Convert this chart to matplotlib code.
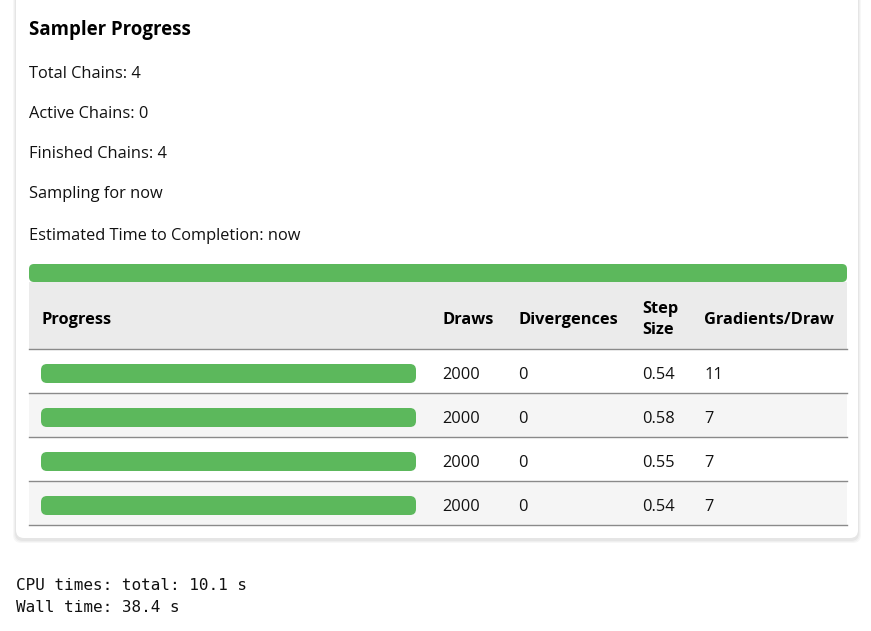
import matplotlib.pyplot as plt
from matplotlib.patches import FancyBboxPatch, Rectangle

title = "Sampler Progress"
total_chains = 4
active_chains = 0
finished_chains = 4
sampling_for = "now"
eta = "now"
overall_progress = 1.0

chain_progress = [1.0, 1.0, 1.0, 1.0]
draws = [2000, 2000, 2000, 2000]
divergences = [0, 0, 0, 0]
step_size = [0.54, 0.58, 0.55, 0.54]
grads_per_draw = [11, 7, 7, 7]
headers = ["Progress", "Draws", "Divergences", "Step\nSize", "Gradients/Draw"]

cpu_total = 10.1
wall_time = 38.4

GREEN = "#5cb85c"
SANS = ["Open Sans", "DejaVu Sans"]
MONO = ["DejaVu Sans Mono"]

fig = plt.figure(figsize=(8.71, 6.31), dpi=100)
ax = fig.add_axes([0, 0, 1, 1])
ax.set_xlim(0, 871)
ax.set_ylim(631, 0)
ax.axis("off")

# card with soft shadow
for i, a in enumerate([0.03, 0.03, 0.04]):
    d = 3 - i
    ax.add_patch(FancyBboxPatch((16 - d, -20 - d + 2), 842 + 2 * d, 558 + 2 * d,
                                boxstyle="round,pad=0,rounding_size=8",
                                fc="black", ec="none", alpha=a, zorder=0))
ax.add_patch(FancyBboxPatch((16, -20), 842, 558, boxstyle="round,pad=0,rounding_size=8",
                            fc="white", ec="none", zorder=1))

body = dict(fontsize=11.8, family=SANS, va="center", ha="left", color="#111111", zorder=5)
ax.text(29, 30, title, fontsize=13.4, family=SANS, fontweight="bold",
        va="center", ha="left", color="black", zorder=5)
lines = [f"Total Chains: {total_chains}", f"Active Chains: {active_chains}",
         f"Finished Chains: {finished_chains}", f"Sampling for {sampling_for}",
         f"Estimated Time to Completion: {eta}"]
for y, s in zip([73.5, 113.5, 153.5, 194.5, 235.5], lines):
    ax.text(29, y, s, **body)

# overall progress bar
track_x, track_w = 29, 818
ax.add_patch(FancyBboxPatch((track_x, 264), track_w * overall_progress, 18,
                            boxstyle="round,pad=0,rounding_size=5",
                            fc=GREEN, ec="none", zorder=3))

# table
ax.add_patch(Rectangle((29, 282), 818, 67, fc="#ebebeb", ec="none", zorder=2))
col_x = [41, 442, 518, 642, 704]
for x, h in zip(col_x, headers):
    ax.text(x, 319.5, h, fontsize=11.8, family=SANS, fontweight="bold",
            va="center", ha="left", color="black", linespacing=1.45, zorder=5)
ax.plot([29, 847], [349, 349], color="#8a8a8a", lw=1, zorder=4)

row_h = 44
bar_x, bar_w = 41, 375
for i in range(len(draws)):
    top = 349 + i * row_h
    cy = top + row_h / 2
    if i % 2 == 1:
        ax.add_patch(Rectangle((29, top), 818, row_h, fc="#f5f5f5", ec="none", zorder=2))
    ax.plot([29, 847], [top + row_h, top + row_h], color="#8a8a8a", lw=1, zorder=4)
    ax.add_patch(FancyBboxPatch((bar_x, top + 15), bar_w * chain_progress[i], 19,
                                boxstyle="round,pad=0,rounding_size=6",
                                fc=GREEN, ec="none", zorder=3))
    vals = [draws[i], divergences[i], f"{step_size[i]:.2f}", grads_per_draw[i]]
    for x, v in zip(col_x[1:], vals):
        ax.text(x, cy + 4, str(v), **body)

mono = dict(fontsize=11.5, family=MONO, va="center", ha="left", color="#111111")
ax.text(16, 585, f"CPU times: total: {cpu_total} s", **mono)
ax.text(16, 608, f"Wall time: {wall_time} s", **mono)

fig.savefig("out.png", dpi=100)
